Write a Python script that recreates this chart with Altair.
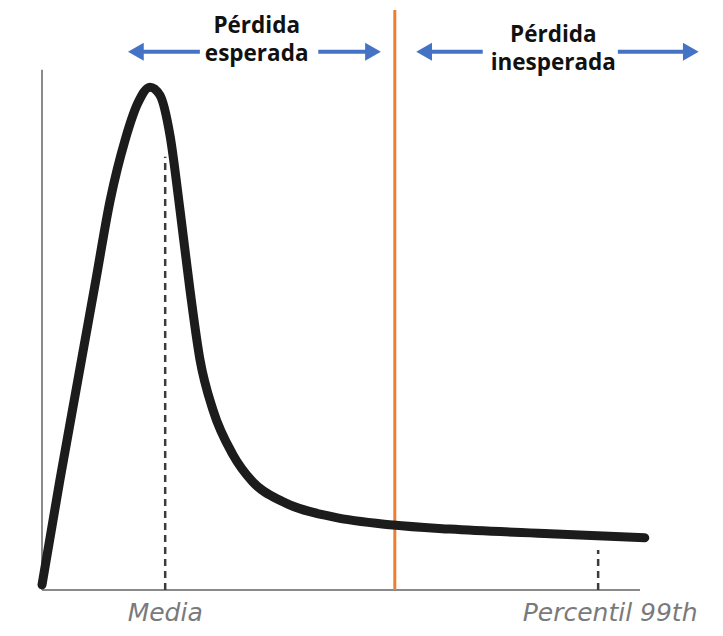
import altair as alt
import pandas as pd

# Curve (loss distribution)
curve_x = [0, 3.0, 6.0, 9.0, 11.4, 13.9, 16.05, 18.06, 19.73, 21.4, 23.08, 24.75, 26.42,
           28.6, 31.94, 35.28, 40.3, 48.66, 58.7, 68.23, 84.95, 100.8]
curve_y = [0.9, 19.0, 36.2, 53.4, 67.2, 77.6, 84.0, 86.7, 85.3, 78.4, 65.5, 51.7, 39.7,
           31.0, 23.3, 18.6, 15.2, 12.6, 11.2, 10.5, 9.7, 9.0]

# Reference lines
media_x = 20.6
media_top = 74.7
p99_x = 93.0
p99_top = 6.9
var_x = 59.0

# Labels
bottom_labels = ["Media", "Percentil 99th"]
bottom_label_x = [20.6, 95.0]
top_text = ["Pérdida\nesperada", "Pérdida\ninesperada"]
top_text_x = [35.9, 85.5]
top_text_y = [96.0, 94.5]

# Arrows: shaft start, shaft end, head position, head direction
arrow_x1 = [15.7, 46.2, 63.9, 96.3]
arrow_x2 = [26.4, 55.35, 73.7, 108.5]
arrow_head = [15.7, 55.35, 63.9, 108.5]
arrow_dir = ["left", "right", "left", "right"]
arrow_y = 92.8

xs = alt.Scale(domain=[0, 100], nice=False, zero=False)
ys = alt.Scale(domain=[0, 100], nice=False, zero=False)


def X(f):
    return alt.X(f, scale=xs, axis=None)


def Y(f):
    return alt.Y(f, scale=ys, axis=None)


curve_df = pd.DataFrame({"x": curve_x, "y": curve_y})
curve = alt.Chart(curve_df).mark_line(
    color="#1c1c1c", strokeWidth=9, interpolate="monotone", strokeCap="round"
).encode(x=X("x:Q"), y=Y("y:Q"))

axes_df = pd.DataFrame({"x": [0, 0], "x2": [0, 100], "y": [0, 0], "y2": [89.7, 0]})
axes = alt.Chart(axes_df).mark_rule(color="#8a8a8a", strokeWidth=2).encode(
    x=X("x:Q"), x2="x2:Q", y=Y("y:Q"), y2="y2:Q"
)

dash_df = pd.DataFrame({"x": [media_x, p99_x], "y": [0, 0], "y2": [media_top, p99_top]})
dashes = alt.Chart(dash_df).mark_rule(
    color="#3c3c3c", strokeWidth=2.5, strokeDash=[7, 5]
).encode(x=X("x:Q"), y=Y("y:Q"), y2="y2:Q")

var_df = pd.DataFrame({"x": [var_x], "y": [0], "y2": [100]})
var_line = alt.Chart(var_df).mark_rule(color="#ED7D31", strokeWidth=3).encode(
    x=X("x:Q"), y=Y("y:Q"), y2="y2:Q"
)

bl_df = pd.DataFrame({"t": bottom_labels, "x": bottom_label_x, "y": [-5.4, -5.4]})
blabels = alt.Chart(bl_df).mark_text(
    font="DejaVu Sans", fontStyle="italic", fontSize=25, color="#7a7a7a",
    baseline="alphabetic", align="center"
).encode(x=X("x:Q"), y=Y("y:Q"), text="t:N")

tt_df = pd.DataFrame({"t": top_text, "x": top_text_x, "y": top_text_y})
ttext = alt.Chart(tt_df).mark_text(
    font="Open Sans", fontWeight="bold", fontSize=22.5, color="#111111",
    baseline="alphabetic", align="center", lineBreak="\n", lineHeight=28
).encode(x=X("x:Q"), y=Y("y:Q"), text="t:N")

ar_df = pd.DataFrame({"x1": arrow_x1, "x2": arrow_x2, "h": arrow_head,
                      "s": arrow_dir, "y": [arrow_y] * 4})
shafts = alt.Chart(ar_df).mark_rule(color="#4472C4", strokeWidth=4).encode(
    x=X("x1:Q"), x2="x2:Q", y=Y("y:Q")
)
heads_l = alt.Chart(ar_df).transform_filter(alt.datum.s == "left").mark_point(
    filled=True, color="#4472C4", opacity=1, size=330, shape="triangle-left"
).encode(x=X("h:Q"), y=Y("y:Q"))
heads_r = alt.Chart(ar_df).transform_filter(alt.datum.s == "right").mark_point(
    filled=True, color="#4472C4", opacity=1, size=330, shape="triangle-right"
).encode(x=X("h:Q"), y=Y("y:Q"))

chart = alt.layer(axes, dashes, var_line, curve, blabels, ttext, shafts, heads_l, heads_r).properties(
    width=598, height=580,
    autosize="none",
    padding={"left": 34, "top": 2, "right": 70, "bottom": 38},
).configure_view(stroke=None)

chart.save("out.html", embed_options={"renderer": "svg", "actions": False})
